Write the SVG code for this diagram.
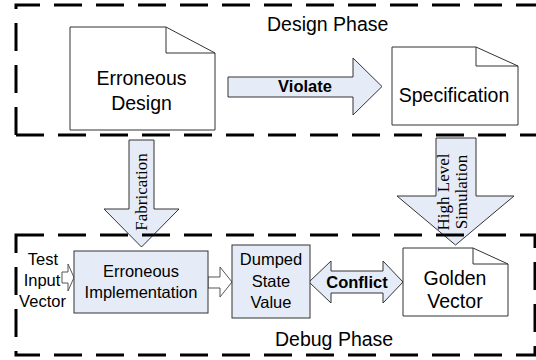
<svg xmlns="http://www.w3.org/2000/svg" width="536" height="360" viewBox="0 0 536 360">
<defs>
<style>
.doc{fill:#ffffff;stroke:#333333;stroke-width:1}
.fold{fill:none;stroke:#333333;stroke-width:1}
.blk{fill:#e6ecf7;stroke:#333333;stroke-width:1}
.harrow{fill:#ffffff;stroke:#555555;stroke-width:1}
.phase{fill:none;stroke:#000000;stroke-width:3;stroke-dasharray:28 14}
.t{font-family:"Liberation Sans",Arial,sans-serif;font-size:19.5px;fill:#000;text-anchor:middle}
.s{font-family:"Liberation Sans",Arial,sans-serif;font-size:16.5px;fill:#000;text-anchor:middle}
.b{font-family:"Liberation Sans",Arial,sans-serif;font-size:16.5px;font-weight:bold;fill:#000;text-anchor:middle}
.r{font-family:"Liberation Serif","Times New Roman",serif;font-size:17px;fill:#000;text-anchor:middle}
</style>
</defs>
<rect width="536" height="360" fill="#ffffff"/>
<g id="connectors">
<g id="violate">
<polygon class="blk" points="228,77 353,77 353,58 382,86.5 353,115 353,97 228,97"/>
<text class="b" x="305" y="92">Violate</text>
</g>
<g id="fabrication">
<polygon class="blk" points="129,140 154,140 154,209 179,209 141.5,247 104,209 129,209"/>
<text class="r" transform="translate(147,192) rotate(-90)">Fabrication</text>
</g>
<g id="simulation">
<polygon class="blk" points="436,138 476,138 476,196 514,196 455.5,245 397,196 436,196"/>
<text class="r" transform="translate(449,192) rotate(-90)">High Level</text>
<text class="r" transform="translate(467,192) rotate(-90)">Simulation</text>
</g>
<g id="impl-to-dump">
<polygon class="harrow" points="208,277 220,277 220,267 232,282 220,297 220,288 208,288"/>
</g>
<g id="test-input-arrow">
<polygon class="harrow" points="62,272 68,272 68,264 74,277.5 68,291 68,283 62,283"/>
</g>
<g id="conflict">
<polygon class="blk" points="309,282 331,261 331,271 383,271 383,261 403,282 383,303 383,293 331,293 331,303"/>
<text class="b" x="357" y="288">Conflict</text>
</g>
</g>
<g id="design-phase">
<path class="phase" d="M16,135 V5 H545 M16,135 H545"/>
<text class="t" x="267" y="31" style="text-anchor:start">Design Phase</text>
</g>
<g id="debug-phase">
<rect class="phase" x="16" y="235" width="519" height="120"/>
<text class="t" x="275" y="346" style="text-anchor:start">Debug Phase</text>
</g>
<g id="erroneous-design">
<path class="doc" d="M70,27 H166 L215,53 V130 H70 Z"/>
<path class="fold" d="M166,27 V53 H215"/>
<text class="t" x="141.5" y="85">Erroneous</text>
<text class="t" x="141.5" y="110">Design</text>
</g>
<g id="specification">
<path class="doc" d="M392,47 H476 L518,66 V125 H392 Z"/>
<path class="fold" d="M476,47 V66 H518"/>
<text class="t" x="454" y="102">Specification</text>
</g>
<g id="test-input">
<text class="s" x="43" y="265">Test</text>
<text class="s" x="42" y="286">Input</text>
<text class="s" x="42.5" y="307">Vector</text>
</g>
<g id="erroneous-implementation">
<rect class="blk" x="74" y="251" width="134" height="62"/>
<text class="s" x="141" y="277">Erroneous</text>
<text class="s" x="141" y="298">Implementation</text>
</g>
<g id="dumped-state">
<rect class="blk" x="232" y="245" width="78" height="73"/>
<text class="s" x="271" y="265">Dumped</text>
<text class="s" x="271" y="287">State</text>
<text class="s" x="271" y="308">Value</text>
</g>
<g id="golden-vector">
<path class="doc" d="M403,248 H473 L508,264 V316 H403 Z"/>
<path class="fold" d="M473,248 V264 H508"/>
<text class="t" x="455" y="285">Golden</text>
<text class="t" x="455" y="308">Vector</text>
</g>
</svg>
